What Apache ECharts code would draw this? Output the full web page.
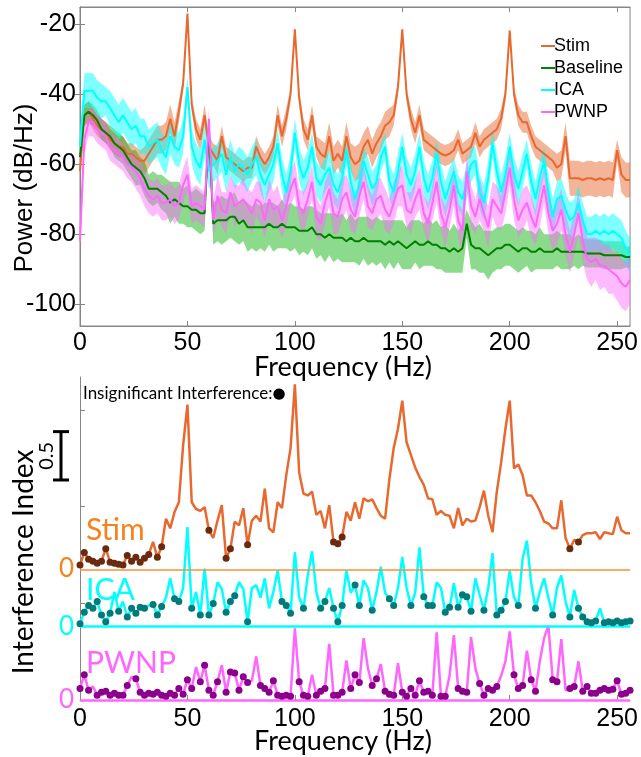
<!DOCTYPE html>
<html><head><meta charset="utf-8">
<script src="https://cdn.jsdelivr.net/npm/echarts@6/dist/echarts.min.js"></script>
<style>html,body{margin:0;padding:0;background:#fff}#c{width:641px;height:757px}</style>
</head><body><div id="c"></div>
<script>
// ---------- DATA ----------
const freqs = [0,2,4,6,8,10,12,14,16,18,20,22,24,26,28,30,32,34,36,38,40,42,44,46,48,50,52,54,56,58,60,62,64,66,68,70,72,74,76,78,80,82,84,86,88,90,92,94,96,98,100,102,104,106,108,110,112,114,116,118,120,122,124,126,128,130,132,134,136,138,140,142,144,146,148,150,152,154,156,158,160,162,164,166,168,170,172,174,176,178,180,182,184,186,188,190,192,194,196,198,200,202,204,206,208,210,212,214,216,218,220,222,224,226,228,230,232,234,236,238,240,242,244,246,248,250,252,254,256];

const freqTicks = [0,50,100,150,200,250];
const powerTicks = [-100,-80,-60,-40,-20];
const indexTicks = [0,1,2,3];
const legendNames = ['Stim','Baseline','ICA','PWNP'];

const stimPower = [-62,-46,-45,-47,-49,-50,-51,-53,-54,-55,
 -55,-57,-57,-58,-59,-59,-57,-55,-53,-53,
 -52,-47,-52,-45,-37,-17,-43,-50,-53,-46,
 -55,-57,-59,-52,-58,-59,-60,-61,-62,-61,
 -61,-55,-58,-60,-58,-55,-46,-52,-47,-40,
 -21.5,-41,-50,-53,-46,-55,-57,-58,-52,-59,
 -57,-59,-52,-58,-60,-59,-55,-53,-57,-54,
 -52,-49,-48,-46,-38,-21.5,-40,-47,-51,-46,
 -53,-54,-55,-56,-57,-57.5,-57,-56,-53,-57,
 -56,-55,-51,-55,-53,-52,-51,-50,-47,-40,
 -21.8,-40,-46,-48,-48,-52,-55,-56,-57,-58,
 -59,-61,-60,-52,-64,-64,-64,-64.5,-64,-64,
 -64.5,-64,-64.5,-64,-64.5,-56,-63,-64.5,-64.5];
const stimSpread = [2,3,3,3,3,3,3,3,3,3,
 3,3,3,3,3,4,4,4,4,4,
 4,4,4,3,2,1,2,3,3,3,
 3,3,4,3,3,3,3,3,3,3,
 3,3,3,3,3,3,3,3,3,2,
 1,2,3,3,3,3,4,4,4,4,
 4,4,4,4,5,5,4,4,4,4,
 4,4,4,3,2,1,2,3,3,3,
 3,3,3,3,3,3,3,3,3,3,
 3,3,3,3,3,3,3,3,3,2,
 1,2,3,3,3,3,3,3,3,3,
 3,4,4,4,5,5,5,5,5,5,
 5,5,5,5,5,3,5,5,5];

const basePower = [-58,-46,-45,-46,-47.5,-50,-51,-52,-54,-55,
 -56,-58,-60,-61,-62,-64,-67,-67,-67,-68,
 -69,-71,-70,-71,-72,-72,-73,-73,-74,-74,
 -50,-77,-76,-76,-76,-75,-75,-77,-76,-78,
 -78,-78,-78,-78,-77,-78,-78,-77,-78,-78,
 -78,-79,-79,-79,-78,-80,-80,-81,-80,-81,
 -81,-81,-82,-81,-82,-82,-81,-82,-82,-82,
 -82,-83,-82,-83,-82,-83,-84,-83,-82,-83,
 -83,-82,-83,-83,-84,-84,-85,-84,-85,-84,
 -77,-83,-84,-84,-85,-86,-85,-84,-84,-83,
 -83,-84,-85,-84,-84,-85,-85,-84,-85,-85,
 -85,-84,-85,-85,-85,-85,-85,-85,-85.5,-85.5,
 -85.5,-85.5,-86,-86,-86,-86,-86,-86.5,-86.5];
const baseSpread = [3,3,3,3,3,3,3,3,4,4,
 4,4,4,5,4,5,4,5,4,5,
 5,6,5,6,5,6,5,6,6,5,
 3,6,6,7,6,6,7,6,6,7,
 6,7,6,7,6,7,6,7,6,7,
 6,7,6,7,6,7,6,7,6,7,
 6,7,6,7,6,7,6,7,6,7,
 6,7,6,7,6,7,6,7,6,7,
 6,7,6,7,6,7,6,7,6,7,
 4,7,6,7,6,7,6,6,6,6,
 6,6,6,6,5,6,5,6,5,5,
 5,5,5,5,5,4,5,4,4,4,
 4,4,4,4,4,4,4,3,3];

const icaPower = [-55,-39,-39,-39,-41,-42,-42,-44,-46,-48,
 -46,-48,-50,-49,-52,-52,-55,-54,-53,-56,
 -58,-52,-55,-56,-52,-38,-55,-59,-61,-53,
 -62,-60,-59,-57,-63,-58,-62,-60,-61,-63,
 -60,-58,-63,-66,-63,-60,-54,-63,-68,-62,
 -51,-60,-64,-61,-55,-64,-66,-63,-61,-66,
 -68,-64,-56,-65,-70,-66,-59,-63,-67,-65,
 -58,-55,-65,-68,-62,-55,-63,-66,-62,-55,
 -64,-68,-64,-57,-65,-70,-66,-62,-68,-70,
 -65,-60,-59,-68,-71,-64,-54,-62,-68,-63,
 -55,-63,-67,-62,-57,-65,-70,-64,-59,-68,
 -75,-70,-69,-73,-76,-75,-71,-76,-80,-80,
 -79,-80,-79,-80,-79,-80,-81,-84,-86];
const icaSpread = [3,5,5,5,5,5,4,5,5,5,
 5,5,5,5,5,5,5,5,5,5,
 5,5,5,5,5,3,5,5,5,5,
 5,5,5,5,5,5,5,5,5,5,
 5,5,5,5,5,5,4,5,5,5,
 4,5,5,5,4,5,5,5,5,5,
 5,5,4,5,5,5,4,5,5,5,
 4,4,5,5,5,4,5,5,5,4,
 5,5,5,4,5,5,5,4,5,5,
 5,5,4,5,5,5,4,5,5,5,
 4,5,5,5,4,5,5,5,4,5,
 5,5,5,5,5,5,5,5,5,5,
 5,5,5,5,5,5,5,5,5];

const pwnpPower = [-82,-53,-48,-48,-50,-51,-52,-55,-56,-57,
 -58,-60,-61,-62,-64,-67,-69,-70,-69,-71,
 -71,-70,-72,-71,-66,-63,-72,-71,-72,-73,
 -47,-76,-69,-73,-74,-68,-72,-71,-70,-72,
 -74,-70,-71,-76,-70,-73,-72,-76,-72,-67,
 -64,-72,-74,-70,-65,-75,-77,-71,-67,-74,
 -75,-70,-68,-73,-75,-69,-65,-72,-74,-70,
 -69,-73,-75,-71,-67,-66,-73,-74,-70,-67,
 -74,-77,-71,-65,-74,-78,-73,-66,-76,-79,
 -62,-72,-75,-70,-74,-78,-70,-72,-74,-68,
 -61,-70,-76,-73,-71,-75,-78,-72,-66,-74,
 -79,-77,-73,-80,-85,-80,-74,-82,-87,-88,
 -87,-89,-89,-90,-91,-92,-94,-95,-93];
const pwnpSpread = [3,4,4,4,4,4,4,4,4,4,
 4,4,4,5,5,5,5,5,5,5,
 5,5,5,5,5,5,5,5,5,5,
 3,5,6,5,6,5,6,5,6,5,
 6,5,6,5,6,5,6,5,6,5,
 5,5,6,5,5,6,5,6,5,6,
 5,6,5,6,5,6,5,6,5,6,
 5,6,5,6,5,6,5,6,5,6,
 5,6,5,6,5,6,5,6,5,6,
 5,6,5,6,5,6,5,6,5,6,
 5,6,5,6,5,6,5,6,5,6,
 6,6,6,6,6,6,6,6,6,7,
 6,7,6,7,6,7,7,7,7];

const stimIndex = [0.04,0.17,0.10,0.08,0.06,0.08,0.21,0.07,0.06,0.05,
 0.04,0.14,0.08,0.12,0.07,0.11,0.15,0.28,0.12,0.23,
 0.52,0.42,0.59,0.69,1.28,1.70,0.69,0.62,0.60,0.64,
 0.40,0.32,0.50,0.66,0.11,0.21,0.49,0.45,0.63,0.25,
 0.50,0.55,0.49,0.83,0.42,0.38,0.69,0.63,0.97,1.25,
 1.91,1.00,0.78,0.76,0.80,0.56,0.60,0.42,0.66,0.28,
 0.26,0.33,0.59,0.50,0.69,0.52,0.73,0.70,0.72,0.63,
 0.55,0.52,0.93,1.25,1.45,1.74,1.31,1.18,1.05,0.95,
 0.87,0.73,0.72,0.56,0.60,0.56,0.55,0.42,0.63,0.45,
 0.52,0.49,0.50,0.64,0.81,0.55,0.38,0.80,1.10,1.45,
 1.74,1.04,1.08,0.97,0.76,0.76,0.69,0.60,0.49,0.47,
 0.42,0.42,0.71,0.32,0.21,0.30,0.28,0.35,0.37,0.37,
 0.38,0.31,0.38,0.37,0.36,0.54,0.40,0.37,0.37];
const icaIndex = [0.03,0.15,0.22,0.19,0.26,0.12,0.05,0.14,0.36,0.16,
 0.26,0.10,0.19,0.14,0.20,0.19,0.22,0.23,0.12,0.21,
 0.30,0.50,0.29,0.26,0.40,1.03,0.19,0.36,0.12,0.60,
 0.12,0.24,0.46,0.39,0.15,0.26,0.32,0.46,0.39,0.05,
 0.40,0.43,0.30,0.50,0.19,0.36,0.58,0.26,0.22,0.14,
 0.77,0.30,0.19,0.53,0.78,0.36,0.19,0.26,0.40,0.19,
 0.05,0.22,0.58,0.35,0.43,0.22,0.48,0.40,0.17,0.36,
 0.62,0.35,0.29,0.22,0.40,0.72,0.40,0.22,0.35,0.82,
 0.31,0.22,0.22,0.46,0.40,0.15,0.20,0.45,0.20,0.33,
 0.31,0.16,0.50,0.33,0.17,0.40,0.76,0.12,0.17,0.26,
 0.58,0.30,0.22,0.70,0.89,0.45,0.19,0.36,0.50,0.30,
 0.12,0.40,0.53,0.26,0.10,0.38,0.19,0.10,0.05,0.04,
 0.06,0.19,0.04,0.05,0.04,0.06,0.04,0.05,0.06];
const pwnpIndex = [0.12,0.26,0.10,0.14,0.05,0.08,0.09,0.05,0.07,0.05,
 0.05,0.15,0.24,0.22,0.08,0.05,0.07,0.06,0.08,0.05,
 0.04,0.07,0.05,0.12,0.06,0.21,0.12,0.34,0.19,0.36,
 0.10,0.05,0.19,0.36,0.08,0.29,0.28,0.10,0.24,0.18,
 0.20,0.45,0.15,0.12,0.08,0.20,0.05,0.04,0.05,0.04,
 0.74,0.19,0.05,0.04,0.26,0.05,0.09,0.12,0.58,0.05,
 0.05,0.08,0.41,0.12,0.26,0.18,0.64,0.33,0.15,0.22,
 0.37,0.09,0.06,0.05,0.38,0.08,0.04,0.12,0.05,0.20,
 0.08,0.09,0.05,0.70,0.04,0.04,0.25,0.67,0.12,0.09,
 0.08,0.65,0.33,0.17,0.05,0.12,0.10,0.14,0.25,0.40,
 0.71,0.26,0.12,0.15,0.51,0.21,0.09,0.40,0.64,0.77,
 0.21,0.19,0.63,0.10,0.12,0.14,0.40,0.09,0.14,0.07,
 0.07,0.10,0.12,0.10,0.11,0.20,0.06,0.07,0.10];

// frequencies (Hz) where the interference is not significant
const stimInsig = [0,2,4,6,8,10,12,14,16,18,20,22,24,26,28,30,32,36,38,60,68,70,78,118,120,122,228,232];
const icaInsig = [0,2,4,6,8,10,12,14,18,22,24,26,28,30,34,36,38,44,46,52,56,60,62,68,70,72,78,94,96,98,104,112,114,118,120,122,128,130,136,144,146,154,160,162,164,170,172,176,178,180,182,188,194,196,198,204,212,220,228,232,234,236,238,240,244,246,248,250,252,254,256];
const pwnpInsig = [0,2,4,8,10,12,14,16,18,20,22,26,28,30,32,34,36,38,40,42,44,46,48,50,52,56,58,60,62,64,68,70,72,74,76,78,84,86,88,90,92,94,96,98,102,104,106,110,112,114,118,120,122,126,128,130,136,138,142,144,146,150,152,154,156,158,160,162,164,168,170,176,178,180,186,188,190,192,194,202,204,206,210,212,220,222,228,230,234,236,238,240,242,244,246,248,250,252,254,256];

const scaleBarValue = 0.5;   // length of the scale bar (index units)
// ---------- LAYOUT / STYLE ----------
const OFF = {stim:1.355, ica:0.758, pwnp:0};      // vertical offsets of stacked traces
const scaleBarBase = 2.275;
const C = {stim:'#E8692F', base:'#007F00', ica:'#00FFFF', pwnp:'#FF66FF',
  stimBand:'rgba(232,105,47,0.5)', baseBand:'rgba(0,175,0,0.45)', icaBand:'rgba(0,255,255,0.5)', pwnpBand:'rgba(255,102,255,0.45)',
  stimDot:'#6B2A0E', icaDot:'#007A7A', pwnpDot:'#8B008B', axis:'#868686'};
const ARIAL = '"Liberation Sans", Arial, sans-serif';
const LATO = 'Lato, "Open Sans", sans-serif';

const chart = echarts.init(document.getElementById('c'), null, {renderer:'canvas'});

function linePairs(vals, off){ return freqs.map((f,i)=>[f, vals[i] + (off||0)]); }
function dotPairs(list, vals, off){ return list.map(f=>[f, vals[freqs.indexOf(f)] + off]); }
function bandSeries(mean, spread, color, yRef){
  return {type:'custom', xAxisIndex:0, yAxisIndex:0, silent:true, z:1,
    data:[[0, yRef]],
    renderItem:(params, api)=>{
      const up = freqs.map((f,i)=>api.coord([f, mean[i] + spread[i]]));
      const lo = freqs.map((f,i)=>api.coord([f, mean[i] - spread[i]])).reverse();
      return {type:'polygon', shape:{points: up.concat(lo)}, style:{fill: color}};
    }};
}
function topLine(name, vals, color){
  return {name, type:'line', xAxisIndex:0, yAxisIndex:0, data:linePairs(vals), symbol:'none',
    lineStyle:{color, width:2}, itemStyle:{color}, z:2};
}
function botLine(name, vals, off, color){
  return {name, type:'line', xAxisIndex:2, yAxisIndex:2, data:linePairs(vals, off), symbol:'none',
    lineStyle:{color, width:2.5}, itemStyle:{color}, z:3};
}
function dots(name, list, vals, off, color){
  return {name, type:'scatter', xAxisIndex:2, yAxisIndex:2, data:dotPairs(list, vals, off),
    symbolSize:7, itemStyle:{color, opacity:1}, z:5};
}

const tickLab = {color:'#000', fontSize:25, fontFamily:ARIAL};
const option = {
  animation:false,
  backgroundColor:'#fff',
  grid:[
    {left:80, top:7, width:552, height:319, show:true, borderColor:C.axis, borderWidth:1},
    {left:80, top:377, width:552, height:323}
  ],
  legend:{data:legendNames.map(n=>({name:n, icon:'rect'})), orient:'vertical', left:536, top:32,
    itemWidth:14, itemHeight:2, itemGap:4, selectedMode:false,
    textStyle:{fontSize:18, fontFamily:ARIAL, color:'#000', padding:[0,0,0,-6]}},
  xAxis:[
    {gridIndex:0, type:'value', min:0, max:256, position:'bottom',
      axisLine:{lineStyle:{color:C.axis}}, splitLine:{show:false},
      axisTick:{inside:true, length:5, lineStyle:{color:C.axis}, customValues:freqTicks},
      axisLabel:{...tickLab, margin:5, customValues:freqTicks}},
    {gridIndex:0, type:'value', min:0, max:256, position:'top',
      axisLine:{lineStyle:{color:C.axis}}, splitLine:{show:false},
      axisTick:{inside:true, length:5, lineStyle:{color:C.axis}, customValues:freqTicks},
      axisLabel:{show:false}},
    {gridIndex:1, type:'value', min:0, max:256, position:'bottom',
      axisLine:{lineStyle:{color:C.axis}}, splitLine:{show:false},
      axisTick:{inside:true, length:5, lineStyle:{color:C.axis}, customValues:freqTicks},
      axisLabel:{...tickLab, margin:7, customValues:freqTicks}}
  ],
  yAxis:[
    {gridIndex:0, type:'value', min:-106.2, max:-15.1, position:'left',
      axisLine:{show:true, lineStyle:{color:C.axis}}, splitLine:{show:false},
      axisTick:{show:true, inside:true, length:5, lineStyle:{color:C.axis}, customValues:powerTicks},
      axisLabel:{...tickLab, margin:4, customValues:powerTicks}},
    {gridIndex:0, type:'value', min:-106.2, max:-15.1, position:'right',
      axisLine:{show:true, lineStyle:{color:C.axis}}, splitLine:{show:false},
      axisTick:{show:true, inside:true, length:5, lineStyle:{color:C.axis}, customValues:powerTicks},
      axisLabel:{show:false}},
    {gridIndex:1, type:'value', min:0, max:3.34, position:'left',
      axisLine:{show:true, lineStyle:{color:C.axis}}, splitLine:{show:false},
      axisTick:{show:true, inside:true, length:5, lineStyle:{color:C.axis}, customValues:indexTicks},
      axisLabel:{show:false}},
    {gridIndex:1, type:'value', min:0, max:3.34, position:'left',
      axisLine:{show:false}, splitLine:{show:false}, axisTick:{show:false},
      axisLabel:{show:true, margin:6, customValues:[OFF.pwnp, OFF.ica, OFF.stim],
        formatter:(v)=> v===OFF.stim ? '{s|0}' : (v===OFF.ica ? '{i|0}' : '{p|0}'),
        rich:{s:{color:'#F5821F', fontSize:26, fontFamily:LATO},
              i:{color:'#00FFFF', fontSize:26, fontFamily:LATO},
              p:{color:'#FF66FF', fontSize:26, fontFamily:LATO}}}}
  ],
  graphic:[
    {type:'text', x:25, y:188, rotation:Math.PI/2, style:{text:'Power (dB/Hz)', font:'26px '+ARIAL, fill:'#000', align:'center', verticalAlign:'middle'}},
    {type:'text', x:343, y:367, style:{text:'Frequency (Hz)', font:'27px '+LATO, fill:'#000', align:'center', verticalAlign:'middle'}},
    {type:'text', x:343, y:741, style:{text:'Frequency (Hz)', font:'27px '+LATO, fill:'#000', align:'center', verticalAlign:'middle'}},
    {type:'text', x:24, y:562, rotation:Math.PI/2, style:{text:'Interference Index', font:'28px '+LATO, fill:'#000', align:'center', verticalAlign:'middle'}},
    {type:'text', x:86, y:530, style:{text:'Stim', font:'30px '+LATO, fill:'#F5821F', align:'left', verticalAlign:'middle'}},
    {type:'text', x:86, y:590, style:{text:'ICA', font:'30px '+LATO, fill:'#00FFFF', align:'left', verticalAlign:'middle'}},
    {type:'text', x:86, y:663, style:{text:'PWNP', font:'30px '+LATO, fill:'#FF66FF', align:'left', verticalAlign:'middle'}},
    {type:'text', x:83, y:394, z:10, style:{text:'{a|Insignificant Interference:}{b|●}', verticalAlign:'middle', align:'left',
      rich:{a:{fontSize:17, fontFamily:LATO, fill:'#000', color:'#000'}, b:{fontSize:15, fontFamily:'"DejaVu Sans"', color:'#000', fill:'#000'}}}}
  ],
  series:[
    bandSeries(stimPower, stimSpread, C.stimBand, -60), topLine('Stim', stimPower, C.stim),
    bandSeries(basePower, baseSpread, C.baseBand, -60), topLine('Baseline', basePower, C.base),
    bandSeries(icaPower, icaSpread, C.icaBand, -60), topLine('ICA', icaPower, C.ica),
    bandSeries(pwnpPower, pwnpSpread, C.pwnpBand, -60), topLine('PWNP', pwnpPower, C.pwnp),
    {type:'line', xAxisIndex:2, yAxisIndex:2, data:[], silent:true, z:4,
      markLine:{symbol:'none', silent:true, label:{show:false},
        data:[{yAxis:OFF.stim, lineStyle:{color:'#F4913A', width:1.5, type:'solid'}},
              {yAxis:OFF.ica, lineStyle:{color:'#00FFFF', width:2.5, type:'solid'}},
              {yAxis:OFF.pwnp, lineStyle:{color:'#FF66FF', width:2.5, type:'solid'}}]}},
    botLine('Stim index', stimIndex, OFF.stim, C.stim),
    botLine('ICA index', icaIndex, OFF.ica, C.ica),
    botLine('PWNP index', pwnpIndex, OFF.pwnp, C.pwnp),
    dots('Stim insig', stimInsig, stimIndex, OFF.stim, C.stimDot),
    dots('ICA insig', icaInsig, icaIndex, OFF.ica, C.icaDot),
    dots('PWNP insig', pwnpInsig, pwnpIndex, OFF.pwnp, C.pwnpDot),
    {type:'custom', xAxisIndex:2, yAxisIndex:2, silent:true, clip:false, z:6,
      data:[[0, scaleBarBase]],
      renderItem:(params, api)=>{
        const x = api.coord([0, 0])[0] - 19;
        const y0 = api.coord([0, scaleBarBase])[1];
        const y1 = api.coord([0, scaleBarBase + scaleBarValue])[1];
        return {type:'group', children:[
          {type:'line', shape:{x1:x, y1:y0, x2:x, y2:y1}, style:{stroke:'#000', lineWidth:3}},
          {type:'line', shape:{x1:x-8, y1:y0, x2:x+8, y2:y0}, style:{stroke:'#000', lineWidth:3}},
          {type:'line', shape:{x1:x-8, y1:y1, x2:x+8, y2:y1}, style:{stroke:'#000', lineWidth:3}},
          {type:'text', x:x-14, y:(y0+y1)/2, rotation:Math.PI/2,
            style:{text:String(scaleBarValue), font:'20px '+LATO, fill:'#000', align:'center', verticalAlign:'middle'}}
        ]};
      }}
  ]
};
chart.setOption(option);
</script>
</body></html>
